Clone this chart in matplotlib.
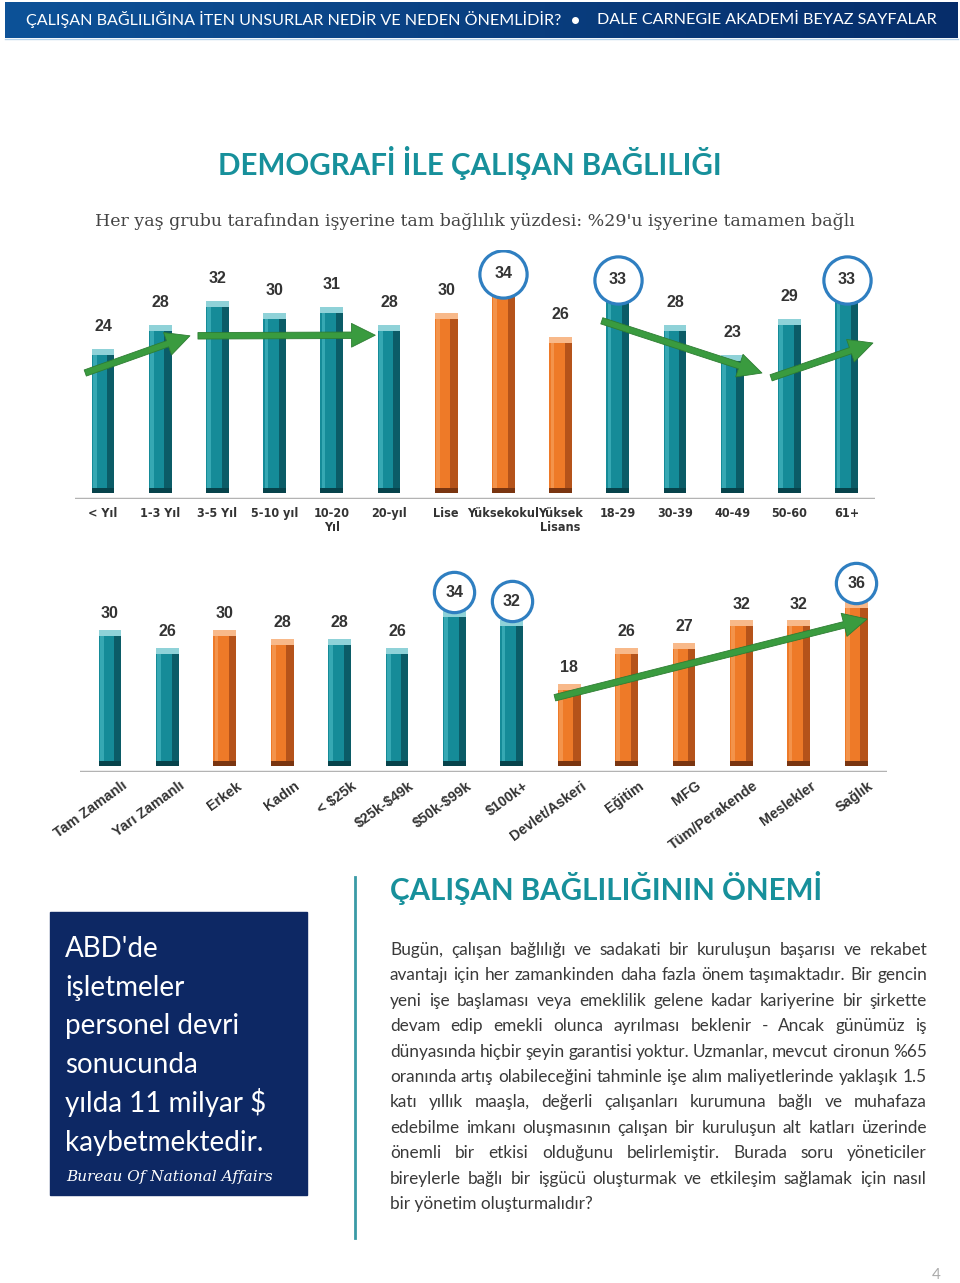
import matplotlib
matplotlib.use('Agg')
import matplotlib.pyplot as plt
import numpy as np
from matplotlib.colors import LinearSegmentedColormap
from matplotlib import font_manager as fm

# ---------------- data ----------------
top_cats = ['< Yıl', '1-3 Yıl', '3-5 Yıl', '5-10 yıl', '10-20\nYıl', '20-yıl', 'Lise',
            'Yüksekokul', 'Yüksek\nLisans', '18-29', '30-39', '40-49', '50-60', '61+']
top_vals = [24, 28, 32, 30, 31, 28, 30, 34, 26, 33, 28, 23, 29, 33]
top_kind = ['t', 't', 't', 't', 't', 't', 'o', 'o', 'o', 't', 't', 't', 't', 't']
top_circled = [7, 9, 13]
# trend arrows: (x_start, y_start, x_end, y_end) in bar-index / value units
top_arrows = [(-0.31, 20.0, 1.52, 26.2), (1.66, 26.2, 4.76, 26.3),
              (8.72, 28.7, 11.52, 20.0), (11.68, 19.2, 13.46, 25.0)]

bot_cats = ['Tam Zamanlı', 'Yarı Zamanlı', 'Erkek', 'Kadın', '< $25k', '$25k-$49k', '$50k-$99k',
            '$100k+', 'Devlet/Askeri', 'Eğitim', 'MFG', 'Tüm/Perakende', 'Meslekler', 'Sağlık']
bot_vals = [30, 26, 30, 28, 28, 26, 34, 32, 18, 26, 27, 32, 32, 36]
bot_kind = ['t', 't', 'o', 'o', 't', 't', 't', 't', 'o', 'o', 'o', 'o', 'o', 'o']
bot_circled = [6, 7, 13]
bot_arrows = [(7.75, 15.0, 13.19, 32.3)]

header_left = 'ÇALIŞAN BAĞLILIĞINA İTEN UNSURLAR NEDİR VE NEDEN ÖNEMLİDİR?'
header_right = 'DALE CARNEGIE AKADEMİ BEYAZ SAYFALAR'
title = 'DEMOGRAFİ İLE ÇALIŞAN BAĞLILIĞI'
subtitle = "Her yaş grubu tarafından işyerine tam bağlılık yüzdesi: %29'u işyerine tamamen bağlı"
section_title = 'ÇALIŞAN BAĞLILIĞININ ÖNEMİ'
box_lines = ["ABD'de", 'işletmeler', 'personel devri', 'sonucunda', 'yılda 11 milyar $', 'kaybetmektedir.']
box_source = 'Bureau Of National Affairs'
body_lines = [
    'Bugün, çalışan bağlılığı ve sadakati bir kuruluşun başarısı ve rekabet',
    'avantajı için her zamankinden daha fazla önem taşımaktadır. Bir gencin',
    'yeni işe başlaması veya emeklilik gelene kadar kariyerine bir şirkette',
    'devam edip emekli olunca ayrılması beklenir - Ancak günümüz iş',
    'dünyasında hiçbir şeyin garantisi yoktur. Uzmanlar, mevcut cironun %65',
    'oranında artış olabileceğini tahminle işe alım maliyetlerinde yaklaşık 1.5',
    'katı yıllık maaşla, değerli çalışanları kurumuna bağlı ve muhafaza',
    'edebilme imkanı oluşmasının çalışan bir kuruluşun alt katları üzerinde',
    'önemli bir etkisi olduğunu belirlemiştir. Burada soru yöneticiler',
    'bireylerle bağlı bir işgücü oluşturmak ve etkileşim sağlamak için nasıl',
    'bir yönetim oluşturmalıdır?',
]
page_no = '4'

# ---------------- style ----------------
TEAL = {'main': '#158b98', 'dark': '#0b5c67', 'light': '#3fb0bb', 'cap': '#8fd2d8', 'base': '#07434b'}
ORNG = {'main': '#ee7a28', 'dark': '#b5531a', 'light': '#f59a55', 'cap': '#f8b98a', 'base': '#7a3510'}
CIRCLE = '#2f7fc1'
ARROW = '#3a9b3f'
LABEL = '#333333'
SANS = ['Lato', 'DejaVu Sans']

# pick a condensed bold face for the category labels if one is installed
cat_font = dict(family='Liberation Sans', fontsize=8.8)
try:
    p = fm.findfont(fm.FontProperties(family='Liberation Sans Narrow', weight='bold'),
                    fallback_to_default=False)
    if 'Narrow' in p:
        cat_font = dict(family='Liberation Sans Narrow', fontsize=10.0)
except Exception:
    pass
if cat_font['family'] == 'Liberation Sans':
    try:
        p = fm.findfont(fm.FontProperties(family='DejaVu Sans', stretch='condensed', weight='bold'),
                        fallback_to_default=False)
        if 'Condensed' in p:
            cat_font = dict(family='DejaVu Sans', fontstretch='condensed', fontsize=9.0)
    except Exception:
        pass

W, H = 960, 1283
fig = plt.figure(figsize=(W / 100, H / 100), dpi=100)
bg = fig.add_axes([0, 0, 1, 1])
bg.set_zorder(0)
bg.axis('off')
renderer = fig.canvas.get_renderer()


def reset_bg():
    bg.set_xlim(0, W)
    bg.set_ylim(H, 0)


reset_bg()


def fit(x, y, s, target_w, size0=10, **kw):
    t = bg.text(x, y, s, fontsize=size0, parse_math=False, **kw)
    w = t.get_window_extent(renderer).width
    t.set_fontsize(size0 * target_w / w)
    return t


def px_axes(x0, y0, x1, y1):
    a = fig.add_axes([x0 / W, 1 - y1 / H, (x1 - x0) / W, (y1 - y0) / H])
    a.set_zorder(2)
    a.patch.set_alpha(0)
    a.axis('off')
    return a


def draw_bars(ax, vals, kinds, unit_px):
    x = np.arange(len(vals))
    v = np.array(vals, dtype=float)
    pal = [TEAL if k == 't' else ORNG for k in kinds]
    w = 0.40
    ax.bar(x, v, w, color=[p['main'] for p in pal], zorder=2)
    ax.bar(x - w * 0.36, v, w * 0.16, color=[p['light'] for p in pal], zorder=2.1, alpha=0.8)
    ax.bar(x + w * 0.34, v, w * 0.32, color=[p['dark'] for p in pal], zorder=2.1)
    cap = 6.0 / unit_px
    ax.bar(x, np.full_like(v, cap), w, bottom=v - cap, color=[p['cap'] for p in pal], zorder=2.2)
    base = 5.0 / unit_px
    ax.bar(x, np.full_like(v, base), w, color=[p['base'] for p in pal], zorder=2.2)


def draw_labels(ax, vals, circled, off_plain, off_circ, msize):
    for i, v in enumerate(vals):
        if i in circled:
            ax.plot(i, v + off_circ, 'o', ms=msize, mfc='white', mec=CIRCLE, mew=2.3, zorder=4)
            ax.text(i, v + off_circ, str(v), ha='center', va='center', fontsize=11.5,
                    fontweight='bold', family='Liberation Sans', color=LABEL, zorder=5)
        else:
            ax.text(i, v + off_plain, str(v), ha='center', va='center', fontsize=11.5,
                    fontweight='bold', family='Liberation Sans', color=LABEL, zorder=5)


def draw_arrows(ax, arrows):
    for (x0, y0, x1, y1) in arrows:
        ax.annotate('', xy=(x1, y1), xytext=(x0, y0),
                    arrowprops=dict(arrowstyle='simple,head_width=0.95,head_length=0.95,tail_width=0.26',
                                    mutation_scale=18, fc=ARROW, ec='#2e7d33', lw=0.6,
                                    shrinkA=0, shrinkB=0), zorder=3)


# ---------------- header ----------------
grad = np.linspace(0, 1, 256).reshape(1, -1)
bg.imshow(grad, extent=(5, 958, 38, 2), cmap=LinearSegmentedColormap.from_list('h', ['#0d5298', '#062d6a']),
          aspect='auto', zorder=1)
reset_bg()
bg.plot([5, 958], [39, 39], color='#b8d3ea', lw=1, zorder=1)
fit(26, 20, header_left, 530, color='white', va='center', family=SANS, zorder=2)
bg.plot(575, 20, 'o', color='white', ms=4, zorder=2)
fit(597, 20, header_right, 337, color='white', va='center', family=SANS, zorder=2)

# ---------------- titles ----------------
fit(470, 163, title, 504, ha='center', va='center', color='#17909b', fontweight='bold', family=SANS)
fit(475, 221, subtitle, 766, ha='center', va='center', color='#444444', family='DejaVu Serif')

# ---------------- top chart ----------------
u_top = 6.0
axt = px_axes(75, 250, 875, 499)
axt.set_xlim((75 - 103) / 57.2, (875 - 103) / 57.2)
axt.set_ylim(-1.0, (493 - 250) / u_top)
draw_bars(axt, top_vals, top_kind, u_top)
axt.axhline(-1.0, color='#b3b3b3', lw=2.5, zorder=1)
draw_labels(axt, top_vals, top_circled, 3.7, 2.5, 34)
draw_arrows(axt, top_arrows)
for i, c in enumerate(top_cats):
    axt.text(i, -2.4, c, ha='center', va='top', fontweight='bold',
             color=LABEL, linespacing=1.05, parse_math=False, **cat_font)

# ---------------- bottom chart ----------------
u_bot = 4.55
axb = px_axes(80, 560, 887, 772)
axb.set_xlim((80 - 110) / 57.4, (887 - 110) / 57.4)
axb.set_ylim(-6.0 / u_bot, (766 - 560) / u_bot)
draw_bars(axb, bot_vals, bot_kind, u_bot)
axb.axhline(-6.0 / u_bot, color='#b3b3b3', lw=2.5, zorder=1)
draw_labels(axb, bot_vals, bot_circled, 3.6, 4.2, 29)
draw_arrows(axb, bot_arrows)
for i, c in enumerate(bot_cats):
    axb.text(i + 0.2, -2.8, c, ha='right', va='top', rotation=36, rotation_mode='anchor',
             fontsize=10.3, fontweight='bold', family='Liberation Sans', color=LABEL, parse_math=False)

# ---------------- lower section ----------------
bg.plot([355, 355], [877, 1238], color='#3a9aa6', lw=2, zorder=1)
bg.add_patch(plt.Rectangle((50, 912), 257, 283, color='#0d2864', zorder=1))
for k, line in enumerate(box_lines):
    bg.text(65, 957 + k * 38.7, line, color='white', fontsize=20, family=SANS,
            va='baseline', ha='left', parse_math=False, zorder=2)
fit(66, 1181, box_source, 206, color='white', family='DejaVu Serif', style='italic',
    va='baseline', ha='left', zorder=2)

fit(390, 888, section_title, 433, color='#17909b', fontweight='bold', family=SANS, va='center', ha='left')

x0, x1 = 390, 927
body_size = 12.4
for k, line in enumerate(body_lines):
    y = 955 + k * 25.4
    words = line.split(' ')
    if k == len(body_lines) - 1:
        bg.text(x0, y, line, fontsize=body_size, family=SANS, color='#3a3a3a', va='baseline',
                parse_math=False)
        continue
    texts = [bg.text(0, y, wd, fontsize=body_size, family=SANS, color='#3a3a3a', va='baseline',
                     parse_math=False) for wd in words]
    widths = [t.get_window_extent(renderer).width for t in texts]
    gap = (x1 - x0 - sum(widths)) / (len(words) - 1)
    xx = x0
    for t, wd in zip(texts, widths):
        t.set_x(xx)
        xx += wd + gap

bg.text(936, 1275, page_no, fontsize=11, color='#aaaaaa', family=SANS, ha='center', va='center')

reset_bg()
fig.savefig('out.png', dpi=100)
